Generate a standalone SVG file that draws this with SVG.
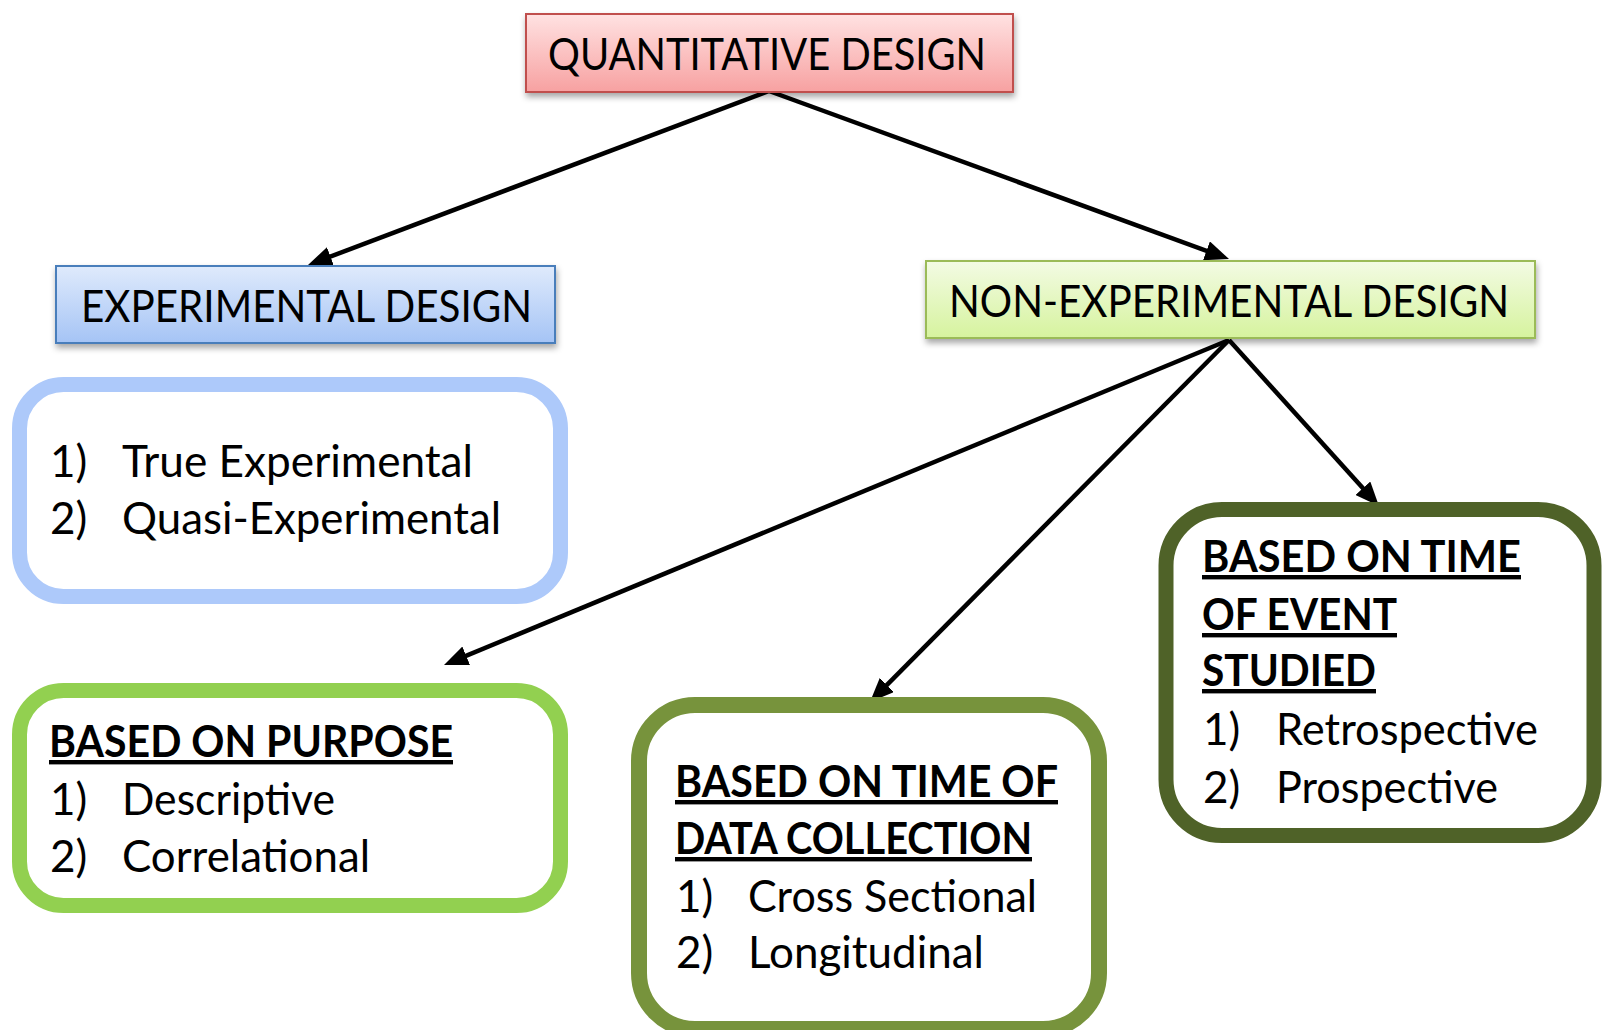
<svg xmlns="http://www.w3.org/2000/svg" width="1608" height="1030" viewBox="0 0 1608 1030">
<style>
  .t { font-family: Lato, "Open Sans", "Liberation Sans", sans-serif; font-size: 44px; fill: #000; }
  .b { font-weight: bold; text-decoration: underline; }
  .hdr { stroke-width: 2; }
  .list { fill: #fff; }
  .conn { stroke: #000; stroke-width: 4.5; fill: none; marker-end: url(#arr); }
</style>
<defs>
  <linearGradient id="gPink" x1="0" y1="0" x2="0" y2="1">
    <stop offset="0" stop-color="#ffe2e2"/>
    <stop offset="1" stop-color="#f7a1a1"/>
  </linearGradient>
  <linearGradient id="gBlue" x1="0" y1="0" x2="0" y2="1">
    <stop offset="0" stop-color="#dfeafc"/>
    <stop offset="1" stop-color="#a5c4f5"/>
  </linearGradient>
  <linearGradient id="gGreen" x1="0" y1="0" x2="0" y2="1">
    <stop offset="0" stop-color="#f3fbe4"/>
    <stop offset="1" stop-color="#d6f39e"/>
  </linearGradient>
  <filter id="sh" x="-10%" y="-20%" width="120%" height="150%">
    <feDropShadow dx="1" dy="4" stdDeviation="3" flood-color="#000" flood-opacity="0.35"/>
  </filter>
  <marker id="arr" markerUnits="userSpaceOnUse" markerWidth="26" markerHeight="20" refX="16" refY="10" orient="auto">
    <path d="M0,0 L24,10 L0,20 z" fill="#000"/>
  </marker>
</defs>
<rect width="1608" height="1030" fill="#fff"/>

<g id="connectors">
  <line class="conn" x1="769" y1="91" x2="315.5" y2="262.2"/>
  <line class="conn" x1="769" y1="91" x2="1221.5" y2="256.3"/>
  <line class="conn" x1="1229" y1="340" x2="451.4" y2="661.9"/>
  <line class="conn" x1="1229" y1="340" x2="875.6" y2="696.3"/>
  <line class="conn" x1="1229" y1="340" x2="1373.6" y2="500.1"/>
</g>

<g id="quantitative">
  <rect class="hdr" x="526" y="14" width="487" height="78" fill="url(#gPink)" stroke="#c0504d" filter="url(#sh)"/>
  <text class="t" x="548" y="69.5" textLength="438" lengthAdjust="spacingAndGlyphs">QUANTITATIVE DESIGN</text>
</g>

<g id="experimental">
  <rect class="hdr" x="56" y="266" width="499" height="77" fill="url(#gBlue)" stroke="#4a7ebb" filter="url(#sh)"/>
  <text class="t" x="81" y="321.5" textLength="451" lengthAdjust="spacingAndGlyphs">EXPERIMENTAL DESIGN</text>
</g>

<g id="nonexperimental">
  <rect class="hdr" x="926" y="261" width="609" height="77" fill="url(#gGreen)" stroke="#9bbb59" filter="url(#sh)"/>
  <text class="t" x="949" y="316.5" textLength="560" lengthAdjust="spacingAndGlyphs">NON-EXPERIMENTAL DESIGN</text>
</g>

<g id="experimental-types">
  <rect class="list" x="19.5" y="384.5" width="541" height="212" rx="44" stroke="#adc9fa" stroke-width="15"/>
  <text class="t" x="50" y="477">1)</text>
  <text class="t" x="122" y="477" textLength="351" lengthAdjust="spacingAndGlyphs">True Experimental</text>
  <text class="t" x="50" y="534">2)</text>
  <text class="t" x="122" y="534" textLength="379" lengthAdjust="spacingAndGlyphs">Quasi-Experimental</text>
</g>

<g id="purpose">
  <rect class="list" x="19.5" y="690.5" width="541" height="215" rx="44" stroke="#92d050" stroke-width="15"/>
  <text class="t b" x="49" y="757" textLength="404" lengthAdjust="spacingAndGlyphs">BASED ON PURPOSE</text>
  <text class="t" x="50" y="815">1)</text>
  <text class="t" x="122" y="815" textLength="213" lengthAdjust="spacingAndGlyphs">Descriptive</text>
  <text class="t" x="50" y="872">2)</text>
  <text class="t" x="122" y="872" textLength="248" lengthAdjust="spacingAndGlyphs">Correlational</text>
</g>

<g id="data-collection">
  <rect class="list" x="639" y="705" width="460" height="324" rx="56" stroke="#77933c" stroke-width="16"/>
  <text class="t b" x="675" y="797" textLength="383" lengthAdjust="spacingAndGlyphs">BASED ON TIME OF</text>
  <text class="t b" x="675" y="854" textLength="357" lengthAdjust="spacingAndGlyphs">DATA COLLECTION</text>
  <text class="t" x="676" y="912">1)</text>
  <text class="t" x="748" y="912" textLength="289" lengthAdjust="spacingAndGlyphs">Cross Sectional</text>
  <text class="t" x="676" y="968">2)</text>
  <text class="t" x="748" y="968" textLength="236" lengthAdjust="spacingAndGlyphs">Longitudinal</text>
</g>

<g id="event-time">
  <rect class="list" x="1166" y="509.5" width="428" height="326" rx="56" stroke="#4f6228" stroke-width="15"/>
  <text class="t b" x="1202" y="572" textLength="319" lengthAdjust="spacingAndGlyphs">BASED ON TIME</text>
  <text class="t b" x="1202" y="630" textLength="195" lengthAdjust="spacingAndGlyphs">OF EVENT</text>
  <text class="t b" x="1202" y="686" textLength="174" lengthAdjust="spacingAndGlyphs">STUDIED</text>
  <text class="t" x="1203" y="745">1)</text>
  <text class="t" x="1276" y="745" textLength="262" lengthAdjust="spacingAndGlyphs">Retrospective</text>
  <text class="t" x="1203" y="803">2)</text>
  <text class="t" x="1276" y="803" textLength="222" lengthAdjust="spacingAndGlyphs">Prospective</text>
</g>
</svg>
